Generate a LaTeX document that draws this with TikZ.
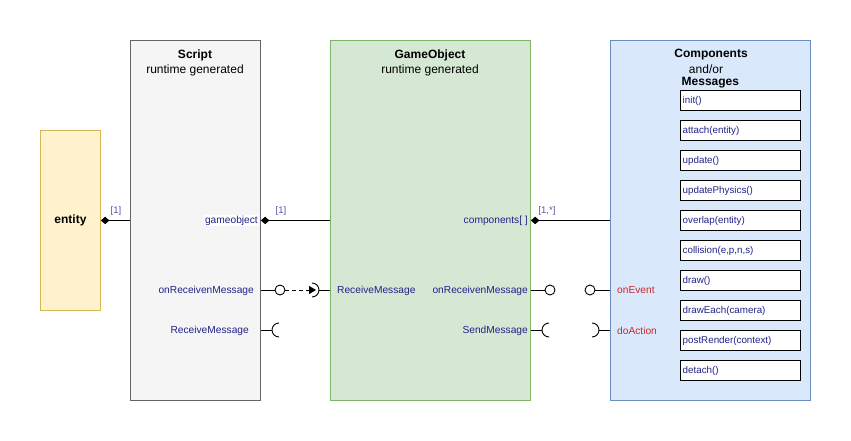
\documentclass[tikz,border=0pt]{standalone}
\usepackage{fontspec}
\setmainfont{Liberation Sans}
\usetikzlibrary{arrows.meta}
\definecolor{lblue}{RGB}{34,34,136}
\definecolor{mblue}{RGB}{85,85,170}
\definecolor{lred}{RGB}{204,40,40}
\definecolor{entfill}{HTML}{FFF2CC}
\definecolor{entdraw}{HTML}{D6B656}
\definecolor{scrfill}{HTML}{F5F5F5}
\definecolor{scrdraw}{HTML}{666666}
\definecolor{gofill}{HTML}{D5E8D4}
\definecolor{godraw}{HTML}{82B366}
\definecolor{cofill}{HTML}{DAE8FC}
\definecolor{codraw}{HTML}{6C8EBF}
\tikzset{
  bigbox/.style={rectangle, inner sep=0, anchor=north west, line width=0.9pt},
  msgbox/.style={rectangle, draw=black, fill=white, line width=1.1pt, minimum width=120pt, minimum height=20pt, inner sep=0, anchor=north west},
  msgtext/.style={text=lblue, font=\fontsize{9.8}{11}\selectfont, anchor=west, inner sep=0},
  lbl/.style={text=lblue, font=\fontsize{10.2}{12}\selectfont, inner sep=0},
  rlbl/.style={text=lred, font=\fontsize{10.2}{12}\selectfont, inner sep=0, anchor=west},
  mult/.style={text=mblue, font=\fontsize{9.5}{11}\selectfont, inner sep=0},
  port/.style={circle, draw=black, fill=white, line width=0.9pt, minimum size=10pt, inner sep=0},
  conn/.style={line width=0.9pt, draw=black},
  comp/.style={conn, {Diamond[length=8.5pt,width=7.5pt]}-},
  hdr/.style={font=\fontsize{12}{15}\selectfont, align=center, inner sep=0}
}
\begin{document}
\begin{tikzpicture}[x=1pt,y=-1pt]
\useasboundingbox[fill=white] (0,0) rectangle (851,441);
% big boxes
\node[bigbox, draw=entdraw, fill=entfill, minimum width=60pt, minimum height=180pt] (entity) at (40,130) {};
\node[font=\bfseries\fontsize{12}{14}\selectfont] (entitytxt) at (entity.center) {entity};
\node[bigbox, draw=scrdraw, fill=scrfill, minimum width=130pt, minimum height=360pt] (script) at (130,40) {};
\node[bigbox, draw=godraw, fill=gofill, minimum width=200pt, minimum height=360pt] (go) at (330,40) {};
\node[bigbox, draw=codraw, fill=cofill, minimum width=200pt, minimum height=360pt] (comp) at (610,40) {};
% headers
\node[hdr] (scripthdr) at (195,62.5) {\textbf{Script}\\runtime generated};
\node[hdr] (gohdr) at (430,62.5) {\textbf{GameObject}\\runtime generated};
\node[hdr, font=\bfseries\fontsize{12}{14}\selectfont] (comphdr) at (711,55) {Components};
\node[hdr] (andor) at (706,69.5) {and/or};
\node[hdr, anchor=west, font=\bfseries\fontsize{12}{14}\selectfont] (msghdr) at (681.5,83) {Messages};
% message boxes
\foreach \t [count=\i] in {init(), attach(entity), update(), updatePhysics(), overlap(entity), {collision(e,p,n,s)}, draw(), drawEach(camera), postRender(context), detach()}{
  \node[msgbox] (m\i) at (680,{90+30*(\i-1)}) {};
  \node[msgtext] (mt\i) at ([xshift=2.5pt]m\i.west) {\t};
}
% composition connectors
\draw[comp] (entity.east) -- (script.west);
\draw[comp] (script.east) -- (go.west);
\draw[comp] (go.east) -- (comp.west);
\node[mult] (mu1) at (116,211) {[1]};
\node[mult] (mu2) at (281,211) {[1]};
\node[mult] (mu3) at (547,211) {[1,*]};
% labels
\node[lbl, anchor=east, fill=white, inner sep=1pt] (lgo) at (259,220.5) {gameobject};
\node[lbl, anchor=east] (lorm1) at (254,290.5) {onReceivenMessage};
\node[lbl, anchor=east] (lrm1) at (249,330.5) {ReceiveMessage};
\node[lbl, anchor=west] (lrm2) at (337,290.5) {ReceiveMessage};
\node[lbl, anchor=east] (lcomp) at (528,220.5) {components[ ]};
\node[lbl, anchor=east] (lorm2) at (528,290.5) {onReceivenMessage};
\node[lbl, anchor=east] (lsend) at (528,330.5) {SendMessage};
\node[rlbl] (lev) at (617,290.5) {onEvent};
\node[rlbl] (lact) at (617,330.5) {doAction};
% ports row 290
\node[port] (p1) at (280,290) {};
\draw[conn] (script.east |- p1) -- (p1);
\coordinate (a1) at (316,290);
\draw[conn, dashed, dash pattern=on 4pt off 3pt, -{Triangle[length=7pt,width=8pt]}] (p1) -- (a1);
\draw[conn] (312,283) arc[start angle=-90, end angle=90, radius=7];
\coordinate (a1r) at (319,290);
\draw[conn] (a1r) -- (go.west |- a1r);
\node[port] (p2) at (550,290) {};
\draw[conn] (go.east |- p2) -- (p2);
\node[port] (p3) at (590,290) {};
\draw[conn] (p3) -- (comp.west |- p3);
% sockets row 330
\coordinate (s1) at (272,330);
\draw[conn] (script.east |- s1) -- (s1);
\draw[conn] (279,323) arc[start angle=270, end angle=90, radius=7];
\coordinate (s2) at (542,330);
\draw[conn] (go.east |- s2) -- (s2);
\draw[conn] (549,323) arc[start angle=270, end angle=90, radius=7];
\coordinate (s3) at (599,330);
\draw[conn] (592,323) arc[start angle=-90, end angle=90, radius=7];
\draw[conn] (s3) -- (comp.west |- s3);
\end{tikzpicture}
\end{document}
